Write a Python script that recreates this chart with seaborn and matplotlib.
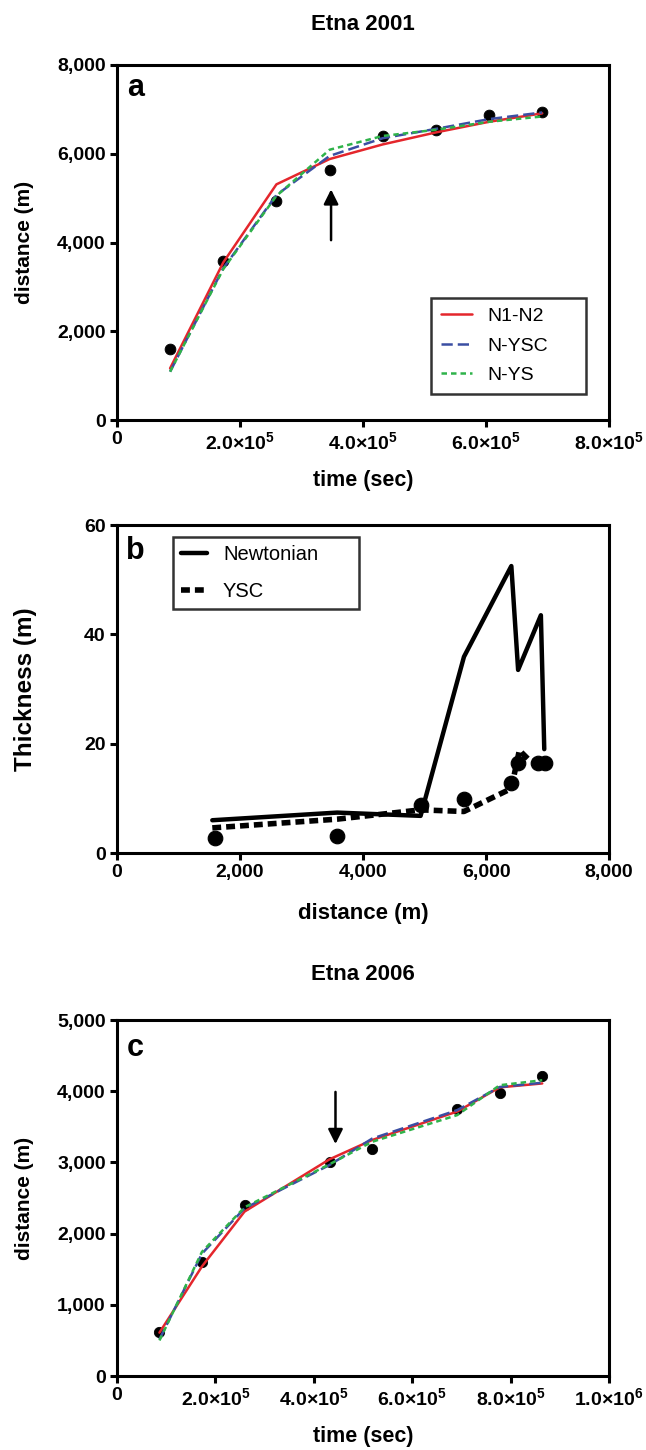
import numpy as np
import seaborn as sns
import matplotlib.pyplot as plt
from matplotlib.ticker import FuncFormatter

# ---- panel a : Etna 2001, distance vs time ----
t_2001 = [86400, 172800, 259200, 345600, 432000, 518400, 604800, 691200]
obs_2001 = [1600, 3580, 4940, 5640, 6400, 6540, 6870, 6950]
n1n2_2001 = [1165, 3550, 5310, 5880, 6210, 6480, 6720, 6910]
nysc_2001 = [1090, 3420, 5070, 5950, 6350, 6560, 6780, 6930]
nys_2001 = [1090, 3400, 5050, 6090, 6400, 6540, 6720, 6840]

# ---- panel b : thickness vs distance ----
dist_b = [1590, 3580, 4935, 5640, 6410, 6520, 6850, 6950]
thick_obs = [2.8, 3.2, 8.8, 9.8, 12.8, 16.5, 16.5, 16.5]
newt_dist = [1550, 3580, 4935, 5640, 6410, 6520, 6890, 6945]
newt_thick = [6.0, 7.4, 6.8, 35.9, 52.5, 33.5, 43.5, 19.0]
ysc_dist = [1550, 3580, 4935, 5640, 6410, 6540, 6700, 6900]
ysc_thick = [4.6, 6.2, 7.9, 7.6, 11.8, 18.8, 17.0, 16.3]

# ---- panel c : Etna 2006, distance vs time ----
t_2006 = [86400, 172800, 259200, 432000, 518400, 691200, 777600, 864000]
obs_2006 = [620, 1600, 2400, 3000, 3190, 3745, 3980, 4220]
n1n2_2006 = [610, 1540, 2310, 3045, 3315, 3715, 4055, 4110]
nysc_2006 = [515, 1720, 2355, 2965, 3335, 3735, 4060, 4120]
nys_2006 = [500, 1745, 2370, 2975, 3290, 3665, 4085, 4155]

sns.set_style('ticks')
plt.rcParams['font.family'] = ['Liberation Sans', 'DejaVu Sans']
plt.rcParams['mathtext.fontset'] = 'custom'
plt.rcParams['mathtext.rm'] = 'Liberation Sans'
plt.rcParams['mathtext.bf'] = 'Liberation Sans:bold'
for k in ['text.color', 'axes.labelcolor', 'xtick.color', 'ytick.color']:
    plt.rcParams[k] = 'black'

RED, BLUE, GREEN = '#e4262c', '#3b4ea3', '#2fb34a'

fig = plt.figure(figsize=(6.46, 14.5), dpi=100)
ax1 = fig.add_axes([0.181, 0.7103, 0.762, 0.2449])
ax2 = fig.add_axes([0.181, 0.4117, 0.762, 0.2262])
ax3 = fig.add_axes([0.181, 0.0510, 0.762, 0.2455])


def sci(v, pos):
    if v == 0:
        return '0'
    e = int(np.floor(np.log10(v)))
    return r'$\mathbf{%.1f{\times}10^{%d}}$' % (v / 10 ** e, e)


def style(ax):
    for s in ax.spines.values():
        s.set_linewidth(2.2)
        s.set_color('black')
        s.set_visible(True)
    ax.tick_params(width=2.2, length=5, labelsize=14, colors='black', pad=3)
    for lab in ax.get_xticklabels() + ax.get_yticklabels():
        lab.set_fontweight('bold')


# panel a
sns.scatterplot(x=t_2001, y=obs_2001, ax=ax1, color='black', s=60, edgecolor='black', zorder=2)
sns.lineplot(x=t_2001, y=n1n2_2001, ax=ax1, color=RED, lw=1.8, label='N1-N2', zorder=3)
sns.lineplot(x=t_2001, y=nysc_2001, ax=ax1, color=BLUE, lw=1.8, linestyle=(0, (4.5, 2)), label='N-YSC', zorder=3)
sns.lineplot(x=t_2001, y=nys_2001, ax=ax1, color=GREEN, lw=1.8, linestyle=(0, (2.2, 1.6)), label='N-YS', zorder=4)
ax1.set_xlim(0, 8e5)
ax1.set_ylim(0, 8000)
ax1.set_xticks([0, 2e5, 4e5, 6e5, 8e5])
ax1.set_yticks([0, 2000, 4000, 6000, 8000])
ax1.xaxis.set_major_formatter(FuncFormatter(sci))
ax1.yaxis.set_major_formatter(FuncFormatter(lambda v, p: f'{v:,.0f}'))
ax1.set_xlabel('time (sec)', fontsize=15.5, fontweight='bold', labelpad=12)
ax1.set_ylabel('distance (m)', fontsize=15, fontweight='bold', labelpad=17)
ax1.set_title('Etna 2001', fontsize=16, fontweight='bold', pad=25)
ax1.text(0.037, 0.935, 'a', transform=ax1.transAxes, fontsize=22, fontweight='bold', va='center', ha='center')
ax1.annotate('', xy=(3.48e5, 5260), xytext=(3.48e5, 3990),
             arrowprops=dict(arrowstyle='-|>', color='black', lw=1.8, mutation_scale=22))
leg = ax1.legend(loc='upper left', bbox_to_anchor=(0.638, 0.068, 0.315, 0.276), mode='expand',
                 fontsize=14, frameon=True, fancybox=False, edgecolor='black', handlelength=1.6,
                 borderpad=0.5, labelspacing=0.6, borderaxespad=0)
leg.get_frame().set_linewidth(1.8)
style(ax1)

# panel b
sns.scatterplot(x=dist_b, y=thick_obs, ax=ax2, color='black', s=110, edgecolor='black', zorder=4)
sns.lineplot(x=newt_dist, y=newt_thick, ax=ax2, color='black', lw=3.2, sort=False, label='Newtonian', zorder=3)
sns.lineplot(x=ysc_dist, y=ysc_thick, ax=ax2, color='black', lw=4, sort=False, linestyle=(0, (1.6, 0.9)), label='YSC', zorder=3)
ax2.set_xlim(0, 8000)
ax2.set_ylim(0, 60)
ax2.set_xticks([0, 2000, 4000, 6000, 8000])
ax2.set_yticks([0, 20, 40, 60])
ax2.xaxis.set_major_formatter(FuncFormatter(lambda v, p: f'{v:,.0f}'))
ax2.set_xlabel('distance (m)', fontsize=16, fontweight='bold', labelpad=16)
ax2.set_ylabel('Thickness (m)', fontsize=17.5, fontweight='bold', labelpad=34)
ax2.text(0.037, 0.92, 'b', transform=ax2.transAxes, fontsize=22, fontweight='bold', va='center', ha='center')
leg = ax2.legend(loc='upper left', bbox_to_anchor=(0.113, 0.75, 0.379, 0.214), mode='expand',
                 fontsize=14.5, frameon=True, fancybox=False, edgecolor='black', handlelength=1.3,
                 borderpad=0.4, labelspacing=0.9, borderaxespad=0, handletextpad=0.8)
leg.get_frame().set_linewidth(1.8)
style(ax2)

# panel c
sns.scatterplot(x=t_2006, y=obs_2006, ax=ax3, color='black', s=55, edgecolor='black', zorder=2)
sns.lineplot(x=t_2006, y=n1n2_2006, ax=ax3, color=RED, lw=1.8, zorder=3)
sns.lineplot(x=t_2006, y=nysc_2006, ax=ax3, color=BLUE, lw=1.8, linestyle=(0, (4.5, 2)), zorder=3)
sns.lineplot(x=t_2006, y=nys_2006, ax=ax3, color=GREEN, lw=1.8, linestyle=(0, (2.2, 1.6)), zorder=4)
ax3.set_xlim(0, 1e6)
ax3.set_ylim(0, 5000)
ax3.set_xticks([0, 2e5, 4e5, 6e5, 8e5, 1e6])
ax3.set_yticks([0, 1000, 2000, 3000, 4000, 5000])
ax3.xaxis.set_major_formatter(FuncFormatter(sci))
ax3.yaxis.set_major_formatter(FuncFormatter(lambda v, p: f'{v:,.0f}'))
ax3.set_xlabel('time (sec)', fontsize=15.5, fontweight='bold', labelpad=12)
ax3.set_ylabel('distance (m)', fontsize=15, fontweight='bold', labelpad=17)
ax3.set_title('Etna 2006', fontsize=16, fontweight='bold', pad=29)
ax3.text(0.037, 0.921, 'c', transform=ax3.transAxes, fontsize=22, fontweight='bold', va='center', ha='center')
ax3.annotate('', xy=(4.44e5, 3220), xytext=(4.44e5, 4030),
             arrowprops=dict(arrowstyle='-|>', color='black', lw=1.8, mutation_scale=22))
style(ax3)

fig.savefig('out.png', dpi=100, facecolor='white')
